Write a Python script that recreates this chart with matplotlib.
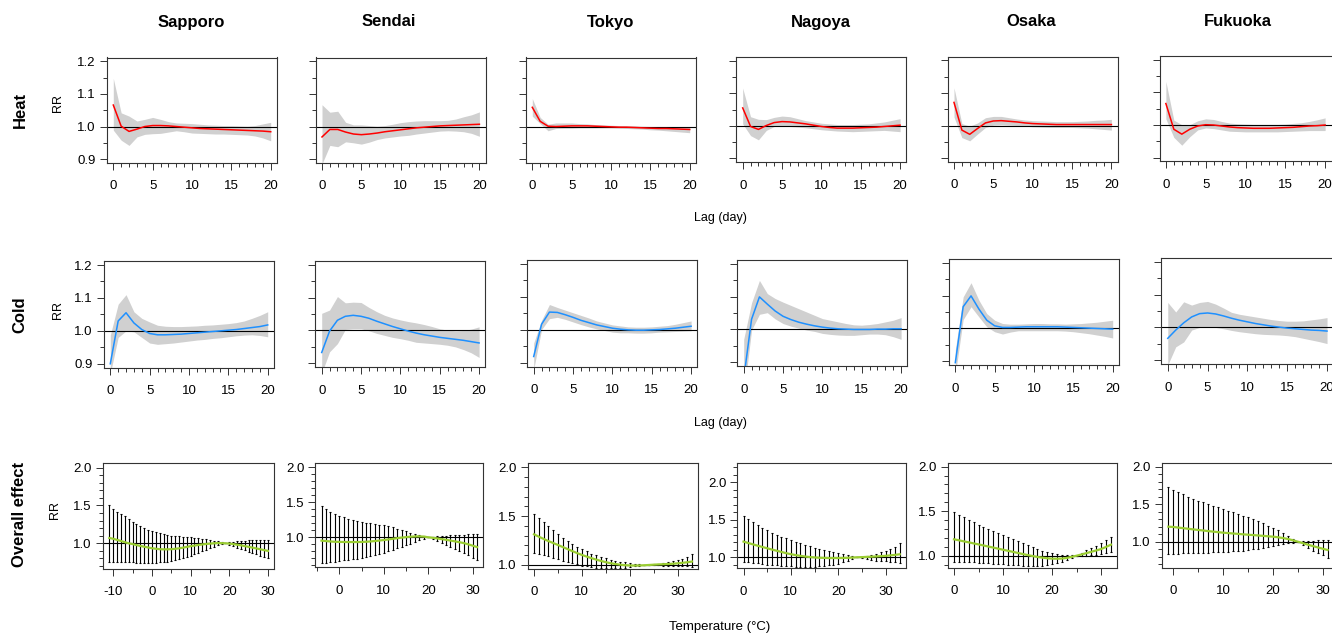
import matplotlib
matplotlib.use("Agg")
import matplotlib.pyplot as plt
from matplotlib.ticker import MultipleLocator, FormatStrFormatter

plt.rcParams["font.family"] = ["Liberation Sans", "DejaVu Sans"]
plt.rcParams["axes.unicode_minus"] = False

W, H = 1332, 635

cities = ["Sapporo", "Sendai", "Tokyo", "Nagoya", "Osaka", "Fukuoka"]
lags = list(range(21))

# ---- heat: cumulative RR by lag (0-20), with 95% CI ----
sapporo_heat_rr = [1.066, 1.001, 0.985, 0.992, 1.0, 1.003, 1.003, 1.002, 1.0, 0.998, 0.996, 0.994, 0.993, 0.992, 0.991, 0.99, 0.989, 0.988, 0.987, 0.986, 0.984]
sapporo_heat_lo = [0.989, 0.958, 0.942, 0.968, 0.976, 0.978, 0.979, 0.983, 0.987, 0.984, 0.98, 0.979, 0.978, 0.977, 0.977, 0.976, 0.975, 0.974, 0.971, 0.965, 0.956]
sapporo_heat_hi = [1.148, 1.042, 1.032, 1.017, 1.022, 1.028, 1.022, 1.015, 1.011, 1.01, 1.009, 1.007, 1.005, 1.004, 1.003, 1.003, 1.002, 1.001, 1.003, 1.008, 1.013]

sendai_heat_rr = [0.968, 0.991, 0.991, 0.983, 0.977, 0.975, 0.977, 0.98, 0.984, 0.987, 0.99, 0.993, 0.996, 0.998, 1.0, 1.002, 1.003, 1.004, 1.005, 1.006, 1.007]
sendai_heat_lo = [0.885, 0.942, 0.938, 0.953, 0.95, 0.946, 0.952, 0.96, 0.965, 0.968, 0.971, 0.973, 0.977, 0.98, 0.983, 0.986, 0.987, 0.986, 0.984, 0.979, 0.97]
sendai_heat_hi = [1.067, 1.044, 1.047, 1.013, 1.005, 1.005, 1.003, 1.001, 1.003, 1.007, 1.012, 1.015, 1.017, 1.018, 1.018, 1.018, 1.019, 1.023, 1.03, 1.036, 1.045]

tokyo_heat_rr = [1.059, 1.016, 1.001, 1.0, 1.001, 1.002, 1.002, 1.002, 1.001, 1.0, 0.999, 0.998, 0.998, 0.997, 0.996, 0.995, 0.994, 0.994, 0.993, 0.992, 0.991]
tokyo_heat_lo = [1.032, 1.009, 0.987, 0.994, 0.995, 0.995, 0.996, 0.996, 0.996, 0.996, 0.996, 0.995, 0.994, 0.993, 0.992, 0.99, 0.989, 0.987, 0.985, 0.983, 0.981]
tokyo_heat_hi = [1.086, 1.028, 1.007, 1.011, 1.011, 1.011, 1.009, 1.008, 1.006, 1.005, 1.004, 1.003, 1.002, 1.002, 1.001, 1.0, 0.999, 0.999, 0.998, 0.998, 0.997]

nagoya_heat_rr = [1.055, 0.998, 0.989, 1.001, 1.01, 1.013, 1.012, 1.009, 1.006, 1.002, 0.998, 0.995, 0.993, 0.993, 0.993, 0.994, 0.995, 0.996, 0.998, 1.0, 1.002]
nagoya_heat_lo = [1.006, 0.97, 0.957, 0.986, 0.998, 1.0, 0.998, 0.996, 0.994, 0.991, 0.988, 0.986, 0.984, 0.983, 0.982, 0.983, 0.984, 0.985, 0.986, 0.984, 0.982]
nagoya_heat_hi = [1.116, 1.028, 1.02, 1.019, 1.026, 1.03, 1.028, 1.022, 1.016, 1.012, 1.008, 1.006, 1.004, 1.004, 1.004, 1.005, 1.006, 1.009, 1.012, 1.017, 1.022]

osaka_heat_rr = [1.071, 0.986, 0.973, 0.991, 1.008, 1.014, 1.015, 1.013, 1.011, 1.008, 1.006, 1.005, 1.004, 1.003, 1.003, 1.003, 1.003, 1.003, 1.003, 1.003, 1.003]
osaka_heat_lo = [1.026, 0.963, 0.953, 0.974, 0.994, 1.001, 1.002, 1.001, 1.0, 0.998, 0.996, 0.995, 0.994, 0.994, 0.994, 0.994, 0.993, 0.992, 0.99, 0.988, 0.986]
osaka_heat_hi = [1.116, 1.006, 0.998, 1.008, 1.024, 1.028, 1.028, 1.024, 1.02, 1.017, 1.015, 1.014, 1.013, 1.012, 1.012, 1.012, 1.013, 1.014, 1.016, 1.017, 1.019]

fukuoka_heat_rr = [1.066, 0.987, 0.972, 0.987, 0.997, 1.001, 1.0, 0.997, 0.994, 0.992, 0.991, 0.99, 0.99, 0.99, 0.991, 0.992, 0.993, 0.995, 0.997, 0.998, 1.0]
fukuoka_heat_lo = [1.019, 0.962, 0.938, 0.964, 0.985, 0.991, 0.989, 0.985, 0.981, 0.98, 0.979, 0.979, 0.979, 0.979, 0.979, 0.98, 0.981, 0.982, 0.983, 0.983, 0.983]
fukuoka_heat_hi = [1.134, 1.015, 1.001, 1.001, 1.013, 1.019, 1.017, 1.011, 1.006, 1.004, 1.003, 1.002, 1.002, 1.002, 1.002, 1.003, 1.005, 1.007, 1.011, 1.016, 1.022]

# ---- cold ----
sapporo_cold_rr = [0.9, 1.03, 1.055, 1.024, 1.004, 0.992, 0.988, 0.988, 0.989, 0.99, 0.992, 0.994, 0.996, 0.998, 1.0, 1.002, 1.004, 1.007, 1.01, 1.013, 1.018]
sapporo_cold_lo = [0.87, 0.98, 1.0, 0.997, 0.98, 0.963, 0.959, 0.961, 0.963, 0.966, 0.969, 0.972, 0.974, 0.977, 0.979, 0.982, 0.985, 0.987, 0.988, 0.986, 0.982]
sapporo_cold_hi = [0.987, 1.081, 1.11, 1.058, 1.038, 1.027, 1.017, 1.014, 1.013, 1.013, 1.014, 1.015, 1.017, 1.018, 1.02, 1.022, 1.025, 1.03, 1.038, 1.047, 1.058]

sendai_cold_rr = [0.933, 0.998, 1.031, 1.043, 1.046, 1.043, 1.037, 1.028, 1.02, 1.012, 1.005, 0.998, 0.992, 0.987, 0.983, 0.979, 0.976, 0.973, 0.97, 0.966, 0.962]
sendai_cold_lo = [0.87, 0.935, 0.96, 1.003, 1.005, 1.005, 0.999, 0.991, 0.985, 0.979, 0.975, 0.97, 0.964, 0.962, 0.96, 0.958, 0.955, 0.95, 0.942, 0.932, 0.918]
sendai_cold_hi = [1.052, 1.062, 1.103, 1.084, 1.086, 1.085, 1.07, 1.057, 1.046, 1.038, 1.032, 1.027, 1.023, 1.018, 1.012, 1.005, 1.001, 0.999, 1.0, 1.004, 1.011]

tokyo_cold_rr = [0.919, 1.017, 1.054, 1.053, 1.046, 1.038, 1.029, 1.022, 1.015, 1.01, 1.005, 1.002, 1.0, 0.999, 0.999, 1.0, 1.001, 1.003, 1.005, 1.008, 1.011]
tokyo_cold_lo = [0.88, 1.001, 1.034, 1.038, 1.032, 1.024, 1.016, 1.009, 1.003, 0.998, 0.993, 0.991, 0.991, 0.99, 0.99, 0.991, 0.993, 0.994, 0.995, 0.996, 0.997]
tokyo_cold_hi = [0.96, 1.029, 1.077, 1.068, 1.06, 1.052, 1.044, 1.036, 1.027, 1.021, 1.015, 1.012, 1.009, 1.008, 1.008, 1.009, 1.011, 1.013, 1.017, 1.022, 1.027]

nagoya_cold_rr = [0.85, 1.031, 1.099, 1.077, 1.056, 1.04, 1.03, 1.022, 1.016, 1.011, 1.007, 1.004, 1.002, 1.001, 1.0, 1.0, 1.0, 1.001, 1.001, 1.002, 1.002]
nagoya_cold_lo = [0.8, 0.998, 1.046, 1.051, 1.032, 1.018, 1.01, 1.004, 0.998, 0.994, 0.988, 0.985, 0.983, 0.982, 0.982, 0.984, 0.986, 0.986, 0.984, 0.978, 0.97]
nagoya_cold_hi = [0.97, 1.081, 1.149, 1.109, 1.094, 1.083, 1.073, 1.063, 1.053, 1.043, 1.033, 1.028, 1.023, 1.018, 1.014, 1.013, 1.015, 1.018, 1.023, 1.028, 1.036]

osaka_cold_rr = [0.896, 1.066, 1.099, 1.059, 1.025, 1.008, 1.003, 1.003, 1.004, 1.005, 1.005, 1.005, 1.005, 1.005, 1.004, 1.003, 1.002, 1.001, 1.0, 0.999, 0.998]
osaka_cold_lo = [0.86, 1.027, 1.066, 1.035, 1.005, 0.99, 0.983, 0.989, 0.993, 0.993, 0.993, 0.993, 0.993, 0.993, 0.992, 0.99, 0.987, 0.984, 0.98, 0.976, 0.971]
osaka_cold_hi = [0.934, 1.096, 1.139, 1.086, 1.045, 1.025, 1.015, 1.013, 1.013, 1.014, 1.015, 1.015, 1.014, 1.014, 1.013, 1.014, 1.015, 1.017, 1.019, 1.022, 1.025]

fukuoka_cold_rr = [0.967, 0.992, 1.014, 1.032, 1.042, 1.044, 1.041, 1.035, 1.028, 1.022, 1.017, 1.012, 1.008, 1.004, 1.001, 0.998, 0.996, 0.994, 0.992, 0.991, 0.989]
fukuoka_cold_lo = [0.886, 0.941, 0.956, 0.992, 1.0, 1.002, 1.0, 0.996, 0.991, 0.987, 0.984, 0.981, 0.979, 0.978, 0.977, 0.975, 0.972, 0.967, 0.962, 0.957, 0.951]
fukuoka_cold_hi = [1.076, 1.047, 1.078, 1.068, 1.076, 1.079, 1.071, 1.059, 1.046, 1.04, 1.036, 1.032, 1.028, 1.024, 1.021, 1.019, 1.019, 1.02, 1.023, 1.026, 1.03]

# ---- overall effect: RR by temperature (deg C) ----
sapporo_temp = list(range(-11, 31))
sapporo_all_rr = [1.07, 1.06, 1.045, 1.03, 1.015, 1.0, 0.99, 0.977, 0.965, 0.955, 0.945, 0.935, 0.928, 0.922, 0.92, 0.92, 0.922, 0.927, 0.933, 0.942, 0.952, 0.962, 0.97, 0.978, 0.985, 0.991, 0.996, 1.0, 1.003, 1.002, 1.0, 0.996, 0.99, 0.982, 0.973, 0.963, 0.953, 0.943, 0.932, 0.921, 0.91, 0.9]
sapporo_all_lo = [0.758, 0.757, 0.755, 0.753, 0.751, 0.749, 0.747, 0.746, 0.745, 0.745, 0.745, 0.745, 0.746, 0.748, 0.752, 0.758, 0.766, 0.776, 0.789, 0.804, 0.82, 0.838, 0.857, 0.876, 0.896, 0.916, 0.936, 0.955, 0.972, 0.988, 0.998, 0.98, 0.962, 0.944, 0.926, 0.908, 0.889, 0.871, 0.853, 0.835, 0.818, 0.8]
sapporo_all_hi = [1.5, 1.455, 1.42, 1.39, 1.355, 1.32, 1.285, 1.255, 1.225, 1.2, 1.178, 1.16, 1.145, 1.132, 1.12, 1.11, 1.102, 1.097, 1.093, 1.089, 1.085, 1.08, 1.076, 1.071, 1.063, 1.054, 1.045, 1.036, 1.026, 1.014, 1.002, 1.012, 1.02, 1.027, 1.032, 1.036, 1.04, 1.043, 1.045, 1.047, 1.048, 1.049]

sendai_temp = list(range(-4, 32))
sendai_all_rr = [0.952, 0.946, 0.94, 0.936, 0.934, 0.933, 0.932, 0.932, 0.932, 0.933, 0.936, 0.94, 0.946, 0.953, 0.961, 0.969, 0.978, 0.987, 0.995, 1.002, 1.008, 1.012, 1.013, 1.01, 1.0, 0.993, 0.984, 0.974, 0.964, 0.953, 0.942, 0.93, 0.917, 0.9, 0.88, 0.86]
sendai_all_lo = [0.63, 0.637, 0.645, 0.653, 0.661, 0.669, 0.677, 0.686, 0.695, 0.705, 0.717, 0.73, 0.745, 0.762, 0.78, 0.8, 0.82, 0.842, 0.864, 0.887, 0.91, 0.934, 0.957, 0.979, 0.998, 0.975, 0.947, 0.917, 0.887, 0.857, 0.83, 0.8, 0.77, 0.74, 0.706, 0.672]
sendai_all_hi = [1.443, 1.405, 1.367, 1.333, 1.305, 1.286, 1.267, 1.248, 1.233, 1.219, 1.21, 1.2, 1.19, 1.181, 1.171, 1.157, 1.143, 1.124, 1.105, 1.086, 1.067, 1.052, 1.038, 1.019, 1.002, 1.006, 1.012, 1.018, 1.023, 1.027, 1.031, 1.034, 1.037, 1.04, 1.042, 1.044]

tokyo_temp = list(range(0, 34))
tokyo_all_rr = [1.314, 1.29, 1.267, 1.245, 1.225, 1.205, 1.184, 1.163, 1.142, 1.122, 1.103, 1.086, 1.07, 1.055, 1.041, 1.029, 1.018, 1.01, 1.003, 0.998, 0.995, 0.994, 0.995, 0.997, 1.0, 1.003, 1.006, 1.008, 1.01, 1.013, 1.017, 1.022, 1.028, 1.035]
tokyo_all_lo = [1.126, 1.113, 1.102, 1.089, 1.075, 1.058, 1.044, 1.031, 1.017, 1.007, 0.993, 0.986, 0.98, 0.973, 0.969, 0.966, 0.965, 0.967, 0.97, 0.974, 0.979, 0.985, 0.99, 0.995, 1.0, 0.998, 0.995, 0.993, 0.992, 0.991, 0.99, 0.988, 0.986, 0.984]
tokyo_all_hi = [1.522, 1.478, 1.44, 1.396, 1.358, 1.317, 1.276, 1.242, 1.215, 1.188, 1.16, 1.14, 1.116, 1.099, 1.082, 1.068, 1.055, 1.044, 1.034, 1.027, 1.02, 1.014, 1.007, 1.003, 1.0, 1.007, 1.014, 1.02, 1.027, 1.038, 1.051, 1.065, 1.085, 1.109]

nagoya_temp = list(range(0, 34))
nagoya_all_rr = [1.209, 1.19, 1.172, 1.154, 1.137, 1.12, 1.103, 1.087, 1.071, 1.055, 1.041, 1.029, 1.019, 1.01, 1.003, 0.998, 0.994, 0.992, 0.99, 0.99, 0.99, 0.991, 0.993, 0.996, 1.0, 1.002, 1.005, 1.008, 1.011, 1.015, 1.019, 1.025, 1.032, 1.04]
nagoya_all_lo = [0.942, 0.938, 0.929, 0.924, 0.911, 0.902, 0.898, 0.893, 0.889, 0.884, 0.88, 0.876, 0.876, 0.876, 0.876, 0.876, 0.88, 0.884, 0.893, 0.902, 0.916, 0.933, 0.951, 0.973, 1.0, 0.987, 0.973, 0.964, 0.956, 0.951, 0.947, 0.942, 0.933, 0.92]
nagoya_all_hi = [1.551, 1.507, 1.471, 1.431, 1.391, 1.36, 1.329, 1.302, 1.276, 1.253, 1.231, 1.209, 1.187, 1.164, 1.147, 1.129, 1.111, 1.093, 1.08, 1.067, 1.053, 1.04, 1.027, 1.013, 1.0, 1.009, 1.022, 1.036, 1.049, 1.067, 1.09, 1.11, 1.14, 1.185]

osaka_temp = list(range(0, 33))
osaka_all_rr = [1.184, 1.173, 1.161, 1.15, 1.138, 1.127, 1.115, 1.103, 1.091, 1.079, 1.067, 1.055, 1.043, 1.031, 1.019, 1.007, 0.996, 0.986, 0.978, 0.971, 0.967, 0.966, 0.968, 0.975, 0.987, 1.0, 1.014, 1.029, 1.044, 1.059, 1.075, 1.099, 1.124]
osaka_all_lo = [0.933, 0.931, 0.929, 0.927, 0.925, 0.921, 0.917, 0.914, 0.91, 0.906, 0.903, 0.899, 0.895, 0.891, 0.888, 0.884, 0.882, 0.882, 0.885, 0.892, 0.903, 0.915, 0.929, 0.947, 0.972, 1.0, 0.998, 0.999, 1.003, 1.01, 1.018, 1.028, 1.04]
osaka_all_hi = [1.491, 1.457, 1.431, 1.401, 1.375, 1.348, 1.322, 1.3, 1.277, 1.255, 1.232, 1.206, 1.184, 1.161, 1.139, 1.116, 1.094, 1.075, 1.056, 1.041, 1.03, 1.019, 1.011, 1.007, 1.003, 1.0, 1.03, 1.06, 1.085, 1.11, 1.14, 1.175, 1.215]

fukuoka_temp = list(range(-1, 32))
fukuoka_all_rr = [1.2, 1.196, 1.188, 1.18, 1.172, 1.164, 1.156, 1.149, 1.141, 1.134, 1.127, 1.12, 1.115, 1.109, 1.104, 1.098, 1.093, 1.088, 1.083, 1.078, 1.072, 1.067, 1.059, 1.049, 1.036, 1.019, 1.0, 0.981, 0.961, 0.942, 0.924, 0.906, 0.889]
fukuoka_all_lo = [0.836, 0.836, 0.84, 0.844, 0.846, 0.848, 0.849, 0.851, 0.853, 0.857, 0.862, 0.864, 0.867, 0.871, 0.876, 0.882, 0.889, 0.898, 0.907, 0.918, 0.929, 0.942, 0.956, 0.969, 0.978, 0.987, 1.0, 0.956, 0.911, 0.88, 0.853, 0.822, 0.778]
fukuoka_all_hi = [1.733, 1.689, 1.658, 1.631, 1.6, 1.573, 1.547, 1.524, 1.502, 1.48, 1.458, 1.436, 1.413, 1.391, 1.369, 1.347, 1.324, 1.298, 1.271, 1.244, 1.213, 1.182, 1.151, 1.116, 1.08, 1.04, 1.0, 1.004, 1.008, 1.012, 1.016, 1.019, 1.022]

heat = [
    (sapporo_heat_rr, sapporo_heat_lo, sapporo_heat_hi),
    (sendai_heat_rr, sendai_heat_lo, sendai_heat_hi),
    (tokyo_heat_rr, tokyo_heat_lo, tokyo_heat_hi),
    (nagoya_heat_rr, nagoya_heat_lo, nagoya_heat_hi),
    (osaka_heat_rr, osaka_heat_lo, osaka_heat_hi),
    (fukuoka_heat_rr, fukuoka_heat_lo, fukuoka_heat_hi),
]
cold = [
    (sapporo_cold_rr, sapporo_cold_lo, sapporo_cold_hi),
    (sendai_cold_rr, sendai_cold_lo, sendai_cold_hi),
    (tokyo_cold_rr, tokyo_cold_lo, tokyo_cold_hi),
    (nagoya_cold_rr, nagoya_cold_lo, nagoya_cold_hi),
    (osaka_cold_rr, osaka_cold_lo, osaka_cold_hi),
    (fukuoka_cold_rr, fukuoka_cold_lo, fukuoka_cold_hi),
]
overall = [
    (sapporo_temp, sapporo_all_rr, sapporo_all_lo, sapporo_all_hi),
    (sendai_temp, sendai_all_rr, sendai_all_lo, sendai_all_hi),
    (tokyo_temp, tokyo_all_rr, tokyo_all_lo, tokyo_all_hi),
    (nagoya_temp, nagoya_all_rr, nagoya_all_lo, nagoya_all_hi),
    (osaka_temp, osaka_all_rr, osaka_all_lo, osaka_all_hi),
    (fukuoka_temp, fukuoka_all_rr, fukuoka_all_lo, fukuoka_all_hi),
]

# panel boxes in pixels: left, top, width, height
heat_boxes = [(107, 57.5, 170, 105.5), (315.7, 57.5, 170, 105.5), (526, 57.5, 170, 105.5),
              (736.4, 56.8, 170, 105.5), (947.7, 56.5, 170, 105.5), (1159.5, 56, 172, 105.5)]
cold_boxes = [(104, 261.1, 170, 106.6), (315.4, 260.7, 170, 106.6), (527.4, 260.1, 170, 106.6),
              (737.4, 259.7, 170, 106.6), (949, 258.7, 170, 106.6), (1161.4, 257.7, 172, 106.6)]
all_boxes = [(103, 463.3, 171.3, 105.4), (315.3, 463.3, 168, 104), (527.7, 463.3, 170.6, 105.4),
             (737.3, 463.3, 168.7, 105), (947.7, 463.3, 169.6, 104.4), (1162, 462.7, 172, 105)]
all_ylims = [(0.664, 2.058), (0.571, 2.057), (0.962, 2.041), (0.853, 2.253), (0.865, 2.038), (0.653, 2.053)]
title_x = [191, 389, 611, 821, 1031, 1238]

BAND = "#D0D0D0"
HEAT_COL = "#FF0000"
COLD_COL = "#1E90FF"
ALL_COL = "#9ACD32"
EDGE = "#333333"


def px_axes(fig, box):
    left, top, width, height = box
    return fig.add_axes([left / W, 1 - (top + height) / H, width / W, height / H])


def style(ax, show_ylabels, open_right=False):
    for s in ax.spines.values():
        s.set_color(EDGE)
        s.set_linewidth(0.8)
    if open_right:
        # the last column runs past the edge of the canvas in the original
        ax.spines["right"].set_visible(False)
    ax.tick_params(which="major", direction="out", length=5, width=0.7,
                   labelsize=9.5, color=EDGE)
    ax.tick_params(which="minor", direction="out", length=2.8, width=0.7, color=EDGE)
    ax.tick_params(axis="x", pad=7.5)
    ax.tick_params(axis="y", pad=3)
    if not show_ylabels:
        ax.tick_params(axis="y", labelleft=False)


fig = plt.figure(figsize=(W / 100, H / 100), dpi=100)

# lag-response rows
for row, (data, boxes, col) in enumerate([(heat, heat_boxes, HEAT_COL), (cold, cold_boxes, COLD_COL)]):
    for i, (rr, lo, hi) in enumerate(data):
        ax = px_axes(fig, boxes[i])
        ax.fill_between(lags, lo, hi, color=BAND, linewidth=0)
        ax.axhline(1.0, color="black", linewidth=0.8)
        ax.plot(lags, rr, color=col, linewidth=1.1)
        ax.set_xlim(-0.8, 20.8)
        ax.set_ylim(0.888, 1.212)
        ax.xaxis.set_major_locator(MultipleLocator(5))
        ax.xaxis.set_minor_locator(MultipleLocator(1))
        ax.yaxis.set_major_locator(MultipleLocator(0.1))
        ax.yaxis.set_minor_locator(MultipleLocator(0.05))
        ax.yaxis.set_major_formatter(FormatStrFormatter("%.1f"))
        style(ax, i == 0, open_right=(i == 5))

# overall temperature-response row
for i, (t, rr, lo, hi) in enumerate(overall):
    ax = px_axes(fig, all_boxes[i])
    ax.axhline(1.0, color="black", linewidth=0.8)
    ax.errorbar(t, rr, yerr=[[r - l for r, l in zip(rr, lo)], [h - r for r, h in zip(rr, hi)]],
                fmt="none", ecolor="black", elinewidth=0.8, capsize=1, capthick=0.8)
    ax.plot(t, rr, color=ALL_COL, linewidth=1.6, zorder=3)
    span = t[-1] - t[0]
    ax.set_xlim(t[0] - 0.04 * span, t[-1] + 0.04 * span)
    ax.set_ylim(*all_ylims[i])
    ax.xaxis.set_major_locator(MultipleLocator(10))
    ax.xaxis.set_minor_locator(MultipleLocator(5))
    ax.yaxis.set_major_locator(MultipleLocator(0.5))
    ax.yaxis.set_minor_locator(MultipleLocator(0.1))
    ax.yaxis.set_major_formatter(FormatStrFormatter("%.1f"))
    style(ax, True)

# titles and labels
for name, x in zip(cities, title_x):
    fig.text(x / W, 1 - 22 / H, name, ha="center", va="center", fontsize=12, fontweight="bold")

for label, y in [("Heat", 110), ("Cold", 315), ("Overall effect", 514)]:
    fig.text(20 / W, 1 - y / H, label, rotation=90, ha="center", va="center",
             fontsize=12, fontweight="bold")

for x, y in [(58, 103), (58, 310), (55, 510)]:
    fig.text(x / W, 1 - y / H, "RR", rotation=90, ha="center", va="center", fontsize=9)

fig.text(720 / W, 1 - 218 / H, "Lag (day)", ha="center", va="center", fontsize=9)
fig.text(720 / W, 1 - 423 / H, "Lag (day)", ha="center", va="center", fontsize=9)
fig.text(720 / W, 1 - 627 / H, "Temperature (\u00b0C)", ha="center", va="center", fontsize=9.5)

fig.savefig("out.png", dpi=100)
